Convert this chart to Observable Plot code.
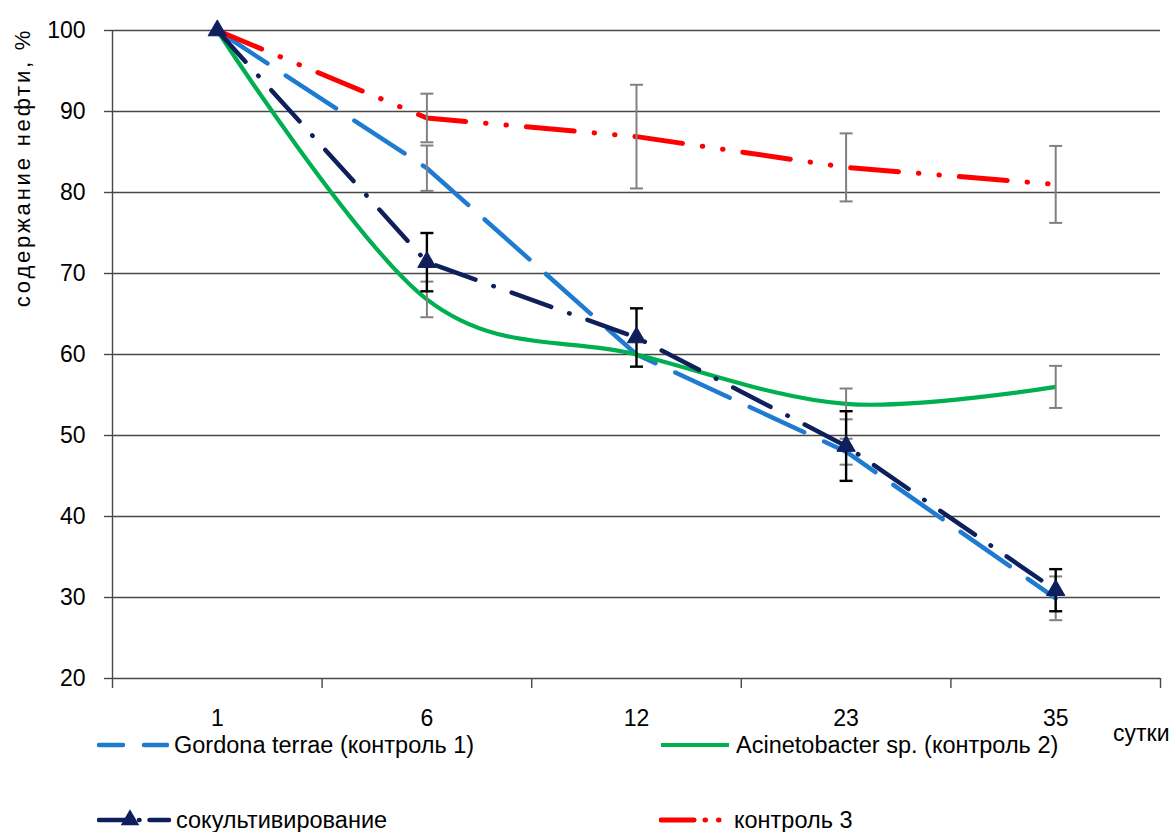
<!DOCTYPE html>
<html><head><meta charset="utf-8">
<script src="https://cdn.jsdelivr.net/npm/d3@7"></script>
<script src="https://cdn.jsdelivr.net/npm/@observablehq/plot@0.6"></script>
<style>
body{margin:0;background:#fff;font-family:"Liberation Sans",Arial,sans-serif;}
#wrap{position:relative;width:1171px;height:832px;background:#fff;}
#wrap svg{display:block;}
.leg{position:absolute;display:flex;align-items:center;font-size:23.5px;color:#000;white-space:nowrap;height:30px;}
.leg svg{margin-right:5px;}
</style></head><body><div id="wrap"></div>
<script>
// ---- data ----
const days = ["1", "6", "12", "23", "35"];
const yTicks = [20, 30, 40, 50, 60, 70, 80, 90, 100];
const yLabel = "содержание нефти, %";
const xLabel = "сутки";

const gordona = [100, 83, 60, 48, 29.9];
const gordonaErr = [0, 2.8, 0, 1.6, 2.7];
const acineto = [100, 66.8, 60, 53.9, 56];
const acinetoErr = [0, 2.2, 0, 1.9, 2.6];
const cocult = [100, 71.4, 62.1, 48.7, 30.9];
const cocultErr = [0, 3.6, 3.6, 4.3, 2.6];
const control3 = [100, 89.2, 86.9, 83.1, 81];
const control3Err = [0, 3.0, 6.4, 4.2, 4.75];

const names = ["Gordona terrae (контроль 1)", "Acinetobacter sp. (контроль 2)", "сокультивирование", "контроль 3"];

// ---- styles ----
const series = [
  {name: names[0], values: gordona, err: gordonaErr, color: "#1f7bcf", width: 4.5, dash: "60,22", curve: "linear", errColor: "#808080"},
  {name: names[1], values: acineto, err: acinetoErr, color: "#00b050", width: 4.2, dash: null, curve: "cardinal", errColor: "#808080"},
  {name: names[2], values: cocult, err: cocultErr, color: "#0f1f5c", width: 4.5, dash: "42,19,0.5,19", curve: "linear", errColor: "#000000", marker: "triangle"},
  {name: names[3], values: control3, err: control3Err, color: "#ff0000", width: 5, dash: "48,20,0.5,20,0.5,20", curve: "linear", errColor: "#808080"}
];
series.forEach(s => { s.rows = s.values.map((v, i) => ({i, v, e: s.err[i]})); });

const n = days.length;
const capSymbol = {draw(ctx) { ctx.moveTo(-6.5, 0); ctx.lineTo(6.5, 0); }};
const axisColor = "#474747";

const lineMarks = series.map(s => Plot.line(s.rows, {
  x: "i", y: "v", stroke: s.color, strokeWidth: s.width,
  strokeDasharray: s.dash || undefined, strokeLinecap: s.dash ? "round" : "butt",
  curve: s.curve, tension: 0
}));
const errMarks = series.flatMap(s => {
  const r = s.rows.filter(d => d.e > 0);
  const w = s.errColor === "#000000" ? 2.4 : 2;
  return [
    Plot.ruleX(r, {x: "i", y1: d => d.v - d.e, y2: d => d.v + d.e, stroke: s.errColor, strokeWidth: w}),
    Plot.dot(r, {x: "i", y: d => d.v - d.e, symbol: capSymbol, stroke: s.errColor, strokeWidth: w, fill: "none"}),
    Plot.dot(r, {x: "i", y: d => d.v + d.e, symbol: capSymbol, stroke: s.errColor, strokeWidth: w, fill: "none"})
  ];
});
const markerMarks = series.filter(s => s.marker).map(s => Plot.dot(s.rows, {
  x: "i", y: "v", symbol: s.marker, r: 6.8, fill: s.color, stroke: s.color, strokeWidth: 1
}));

const chart = Plot.plot({
  width: 1171, height: 740,
  marginLeft: 112, marginRight: 11, marginTop: 30, marginBottom: 62,
  style: {fontFamily: "'Liberation Sans', Arial, sans-serif", fontSize: "23px", color: "#000", background: "#fff", overflow: "visible"},
  x: {type: "linear", domain: [-0.5, n - 0.5]},
  y: {type: "linear", domain: [20, 100]},
  marks: [
    Plot.gridY(yTicks.filter(t => t > 20), {stroke: axisColor, strokeOpacity: 1, strokeWidth: 1.4}),
    Plot.axisY(yTicks, {tickSize: 8, tickPadding: 19, stroke: axisColor, strokeWidth: 1.4, fontSize: 23, label: null}),
    Plot.axisX(d3.range(n + 1).map(i => i - 0.5), {tickSize: 10, tickFormat: () => "", stroke: axisColor, strokeWidth: 1.4, label: null}),
    Plot.axisX(d3.range(n), {tickSize: 0, tickPadding: 31, tickFormat: i => days[i], fontSize: 23, label: null}),
    Plot.ruleX([-0.5], {stroke: axisColor, strokeWidth: 1.4}),
    Plot.ruleY([20], {stroke: axisColor, strokeWidth: 1.4}),
    ...lineMarks,
    ...errMarks,
    ...markerMarks,
    Plot.text([yLabel], {frameAnchor: "top-left", rotate: -90, dx: -90, dy: 137, fontSize: 22, textAnchor: "middle", lineAnchor: "middle"}),
    Plot.text([xLabel], {frameAnchor: "bottom-right", dx: 9, dy: 55, fontSize: 23, textAnchor: "end", lineAnchor: "middle"})
  ]
});
d3.select(chart).selectAll("text").filter(function() { return this.textContent === yLabel; }).style("letter-spacing", "2.8px");
const wrap = document.getElementById("wrap");
wrap.appendChild(chart);

// ---- legend ----
const legendPos = [
  {left: 97, top: 730, sw: 72, dash: "24,21"},
  {left: 659, top: 730, sw: 72, dash: null},
  {left: 97, top: 805, sw: 74, dash: "30,10,0.5,10,20"},
  {left: 659, top: 805, sw: 70, dash: "33,11,0.5,13,0.5,30"}
];
series.forEach((s, k) => {
  const p = legendPos[k];
  const item = document.createElement("div");
  item.className = "leg";
  item.style.left = p.left + "px";
  item.style.top = p.top + "px";
  const ns = "http://www.w3.org/2000/svg";
  const sv = document.createElementNS(ns, "svg");
  sv.setAttribute("width", p.sw); sv.setAttribute("height", 30);
  const ln = document.createElementNS(ns, "line");
  ln.setAttribute("x1", 2); ln.setAttribute("x2", p.sw - 2);
  ln.setAttribute("y1", 15); ln.setAttribute("y2", 15);
  ln.setAttribute("stroke", s.color); ln.setAttribute("stroke-width", s.width);
  if (p.dash) { ln.setAttribute("stroke-dasharray", p.dash); ln.setAttribute("stroke-linecap", "round"); }
  sv.appendChild(ln);
  if (s.marker) {
    const tri = document.createElementNS(ns, "path");
    tri.setAttribute("d", d3.symbol(d3.symbolTriangle, 150)());
    tri.setAttribute("transform", "translate(33,15)");
    tri.setAttribute("fill", s.color);
    sv.appendChild(tri);
  }
  item.appendChild(sv);
  const t = document.createElement("span");
  t.textContent = s.name;
  item.appendChild(t);
  wrap.appendChild(item);
});
</script></body></html>
